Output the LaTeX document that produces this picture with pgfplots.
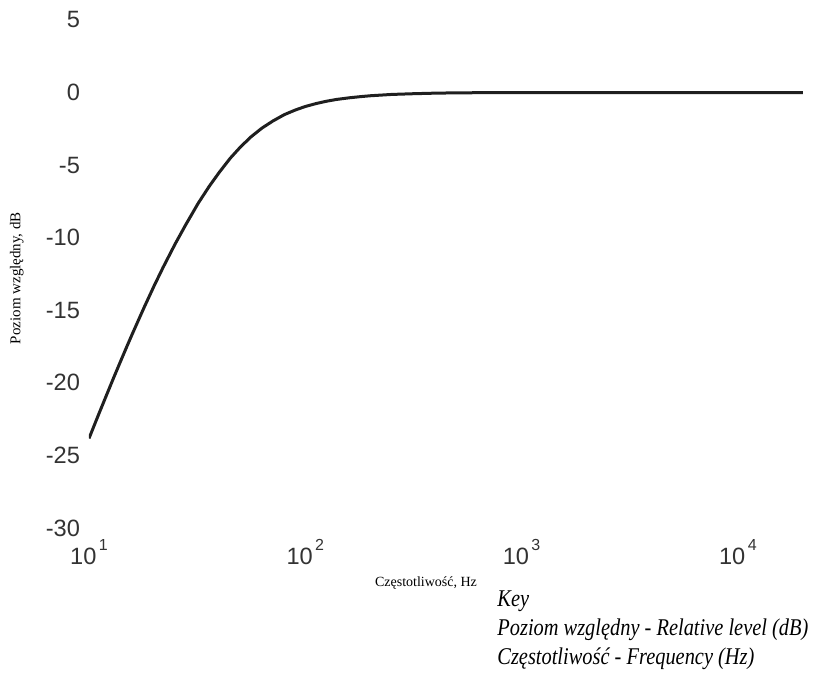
\documentclass[border=0pt]{standalone}
\usepackage{fontspec}
\setmainfont{Liberation Sans}
\newfontfamily\serif{Liberation Serif}
\usepackage{pgfplots}
\pgfplotsset{compat=1.18}

\pgfplotstableread{
f      db
10     -23.83
11     -22.29
12     -20.91
13     -19.65
14     -18.51
15     -17.46
16     -16.50
18     -14.79
20     -13.32
22     -12.05
25     -10.44
28     -9.11
32     -7.62
36     -6.45
40     -5.50
45     -4.52
50     -3.77
56     -3.06
63     -2.45
71     -1.95
80     -1.52
90     -1.20
100    -0.96
112    -0.76
125    -0.60
140    -0.47
160    -0.36
180    -0.28
200    -0.22
250    -0.13
315    -0.08
400    -0.04
500    -0.02
630    -0.01
800    0
1000   0
2000   0
5000   0
10000  0
20000  0
}\rlbcurve

\begin{document}
\begin{tikzpicture}
\useasboundingbox (-44.5pt,-72.5pt) rectangle (363pt,264pt);
\begin{semilogxaxis}[
  at={(0,0)}, anchor=south west,
  scale only axis,
  width=357pt, height=254pt,
  xmin=10, xmax=20000,
  ymin=-30, ymax=5,
  axis line style={draw=none},
  tick style={draw=none},
  major tick length=0pt,
  xtick={10,100,1000,10000},
  xticklabels={10\hspace{1.2pt}\raisebox{7pt}{\fontsize{8}{8}\selectfont 1},
               10\hspace{1.2pt}\raisebox{7pt}{\fontsize{8}{8}\selectfont 2},
               10\hspace{1.2pt}\raisebox{7pt}{\fontsize{8}{8}\selectfont 3},
               10\hspace{1.2pt}\raisebox{7pt}{\fontsize{8}{8}\selectfont 4}},
  ytick={-30,-25,...,5},
  /pgf/number format/assume math mode=true,
  ticklabel style={font=\fontsize{11.8}{12}\selectfont, color=black!80},
  xticklabel style={yshift=-2pt},
  yticklabel style={xshift=-1pt},
  xlabel={Częstotliwość, Hz},
  xlabel style={font=\serif\fontsize{7}{8}\selectfont,
    at={(axis description cs:0.472,0)}, anchor=base, yshift=-29.5pt},
  ylabel={Poziom względny, dB},
  ylabel style={font=\serif\fontsize{7.5}{8}\selectfont,
    at={(axis description cs:-0.101,0.492)}, anchor=center},
]
\addplot[color=black!88, line width=1.5pt, line join=round] table[x=f, y=db] {\rlbcurve};
\end{semilogxaxis}
\begin{scope}[every node/.style={anchor=base west, inner sep=0pt,
    font=\serif\itshape\fontsize{12}{13}\selectfont}]
\node at (204pt,-39.5pt) {\scalebox{0.85}[1]{Key}};
\node at (204pt,-54pt) {\scalebox{0.85}[1]{Poziom względny - Relative level (dB)}};
\node at (204pt,-68.5pt) {\scalebox{0.85}[1]{Częstotliwość - Frequency (Hz)}};
\end{scope}
\end{tikzpicture}
\end{document}
